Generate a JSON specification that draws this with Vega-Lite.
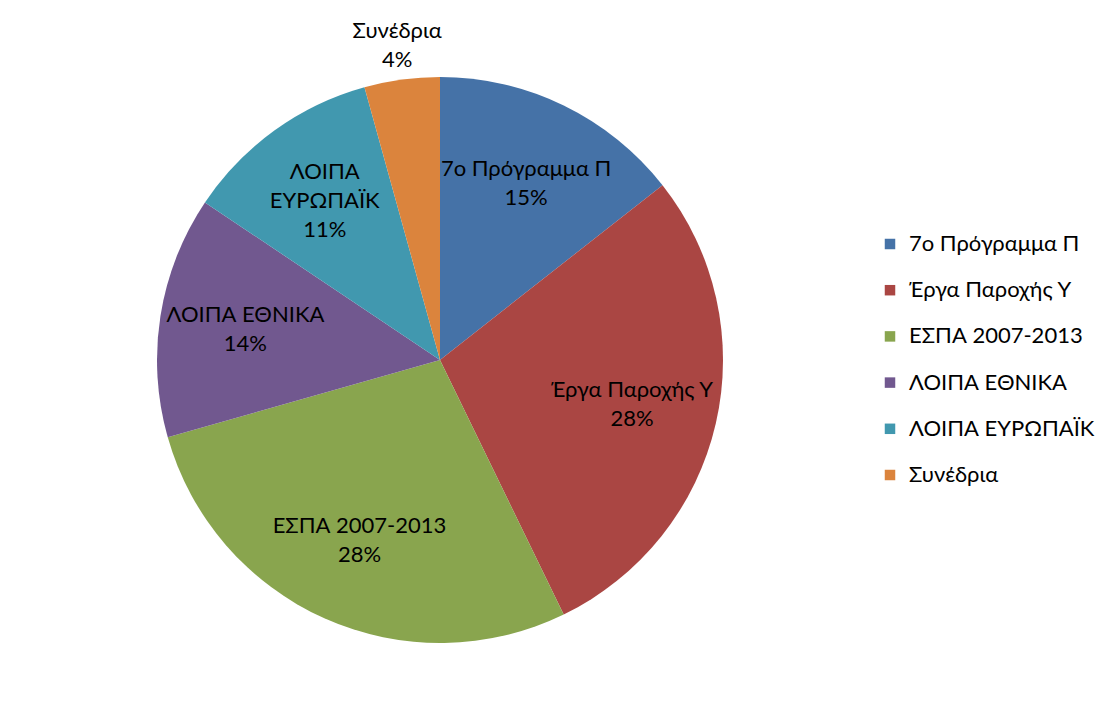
{
  "$schema": "https://vega.github.io/schema/vega-lite/v6.json",
  "width": 880,
  "height": 720,
  "autosize": {"type": "none"},
  "padding": {"left": 0, "top": 0, "right": 227, "bottom": 0},
  "background": "white",
  "config": {"view": {"stroke": null}, "font": "Lato"},
  "data": {
    "values": [
      {"o": 1, "category": "7ο Πρόγραμμα Π", "value": 14.4, "label": "7ο Πρόγραμμα Π|15%", "small": false},
      {"o": 2, "category": "Έργα Παροχής Υ", "value": 28.4, "label": "Έργα Παροχής Υ|28%", "small": false},
      {"o": 3, "category": "ΕΣΠΑ 2007-2013", "value": 27.8, "label": "ΕΣΠΑ 2007-2013|28%", "small": false},
      {"o": 4, "category": "ΛΟΙΠΑ ΕΘΝΙΚΑ", "value": 13.8, "label": "ΛΟΙΠΑ ΕΘΝΙΚΑ|14%", "small": false},
      {"o": 5, "category": "ΛΟΙΠΑ ΕΥΡΩΠΑΪΚ", "value": 11.3, "label": "ΛΟΙΠΑ|ΕΥΡΩΠΑΪΚ|11%", "small": false},
      {"o": 6, "category": "Συνέδρια", "value": 4.3, "label": "Συνέδρια|4%", "small": true}
    ]
  },
  "encoding": {
    "theta": {"field": "value", "type": "quantitative", "stack": true},
    "order": {"field": "o", "type": "quantitative"}
  },
  "layer": [
    {
      "mark": {"type": "arc", "outerRadius": 283},
      "encoding": {
        "color": {
          "field": "category",
          "type": "nominal",
          "sort": null,
          "scale": {
            "domain": ["7ο Πρόγραμμα Π", "Έργα Παροχής Υ", "ΕΣΠΑ 2007-2013", "ΛΟΙΠΑ ΕΘΝΙΚΑ", "ΛΟΙΠΑ ΕΥΡΩΠΑΪΚ", "Συνέδρια"],
            "range": ["#4572A7", "#AA4643", "#89A54E", "#71588F", "#4198AF", "#DB843D"]
          },
          "legend": {
            "title": null,
            "orient": "none",
            "legendX": 879,
            "legendY": 233,
            "symbolType": "square",
            "symbolSize": 110,
            "symbolStrokeWidth": 0,
            "labelFont": "Lato",
            "labelFontSize": 22,
            "labelColor": "#000000",
            "labelOffset": 8,
            "rowPadding": 24.2,
            "labelLimit": 300
          }
        }
      }
    },
    {
      "mark": {
        "type": "text",
        "radius": {"expr": "datum.small ? 318 : 197"},
        "dy": {"expr": "-(length(split(datum.label, '|')) - 1) * 14"},
        "fontSize": 22,
        "lineBreak": "|",
        "lineHeight": 29,
        "align": "center",
        "baseline": "middle",
        "color": "#000000"
      },
      "encoding": {"text": {"field": "label", "type": "nominal"}}
    }
  ]
}
